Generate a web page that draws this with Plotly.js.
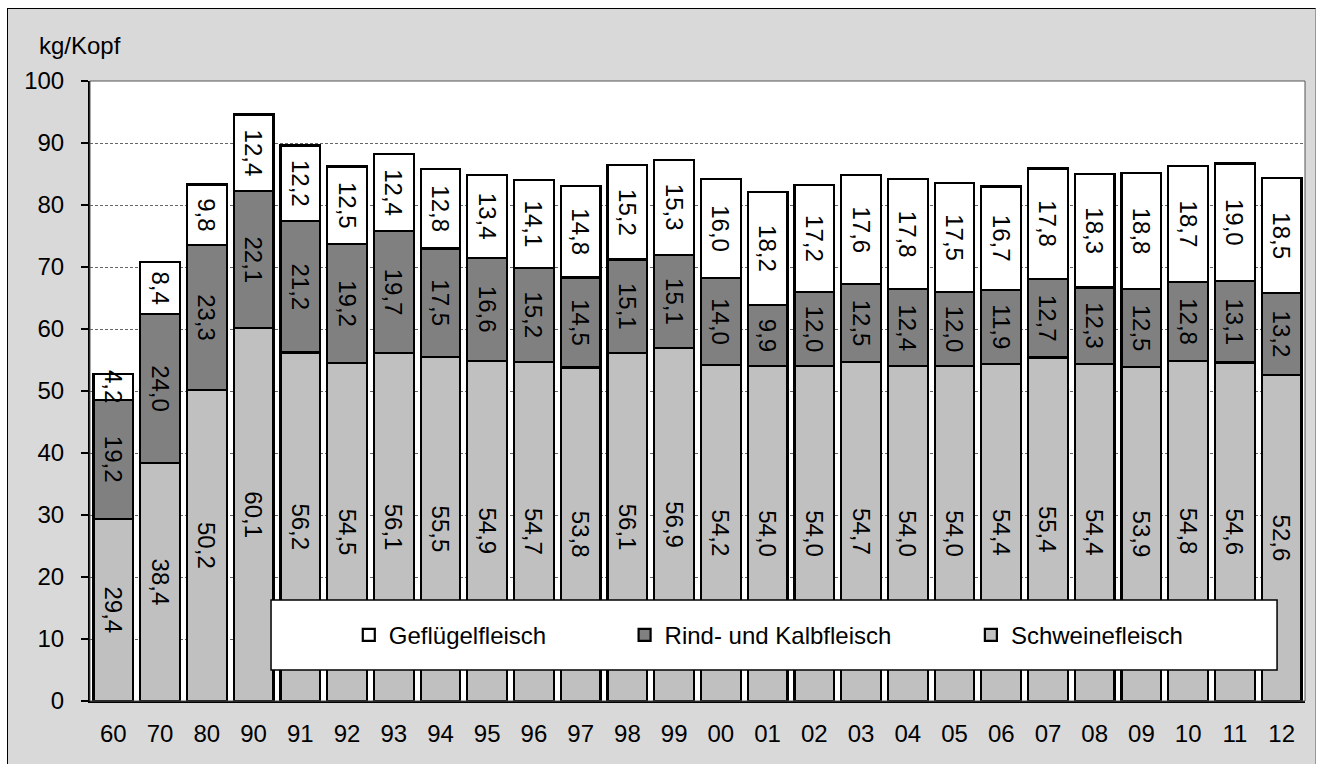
<!DOCTYPE html>
<html>
<head>
<meta charset="utf-8">
<script src="https://cdn.plot.ly/plotly-3.0.1.min.js"></script>
<style>
html,body{margin:0;padding:0;background:#ffffff;}
#wrap{position:absolute;left:7px;top:8px;width:1307px;height:760px;border-left:1px solid #000;border-top:1px solid #000;border-right:1px solid #999;background:#d9d9d9;}
#chart{width:1307px;height:756px;}
</style>
</head>
<body>
<div id="wrap"><div id="chart"></div></div>
<script>
const categories = ["60","70","80","90","91","92","93","94","95","96","97","98","99","00","01","02","03","04","05","06","07","08","09","10","11","12"];
const schwein = [29.4,38.4,50.2,60.1,56.2,54.5,56.1,55.5,54.9,54.7,53.8,56.1,56.9,54.2,54.0,54.0,54.7,54.0,54.0,54.4,55.4,54.4,53.9,54.8,54.6,52.6];
const rind = [19.2,24.0,23.3,22.1,21.2,19.2,19.7,17.5,16.6,15.2,14.5,15.1,15.1,14.0,9.9,12.0,12.5,12.4,12.0,11.9,12.7,12.3,12.5,12.8,13.1,13.2];
const gefluegel = [4.2,8.4,9.8,12.4,12.2,12.5,12.4,12.8,13.4,14.1,14.8,15.2,15.3,16.0,18.2,17.2,17.6,17.8,17.5,16.7,17.8,18.3,18.8,18.7,19.0,18.5];
const seriesNames = ["Schweinefleisch","Rind- und Kalbfleisch","Geflügelfleisch"];
const yTitle = "kg/Kopf";

const FONT = "Liberation Sans, Arial, sans-serif";
const FS = 24;
const fmt = v => v.toFixed(1).replace(".", ",");

function mk(vals, name, color, legendId) {
  return {
    type: "bar", x: categories, y: vals, name: name,
    text: vals.map(fmt), textposition: "inside", insidetextanchor: "middle",
    textangle: 90, constraintext: "none", cliponaxis: false,
    textfont: {family: FONT, size: FS, color: "#000"},
    marker: {color: color, line: {color: "#000", width: 2.2}},
    hoverinfo: "x+y", legend: legendId
  };
}

const data = [
  mk(schwein, seriesNames[0], "#c0c0c0", "legend3"),
  mk(rind, seriesNames[1], "#808080", "legend2"),
  mk(gefluegel, seriesNames[2], "#ffffff", "legend")
];

const legCommon = {orientation: "h", bgcolor: "rgba(0,0,0,0)", borderwidth: 0,
  font: {family: FONT, size: FS, color: "#000"}, yanchor: "middle", y: 0.106, xanchor: "left"};

const layout = {
  width: 1307, height: 756,
  paper_bgcolor: "#d9d9d9", plot_bgcolor: "#ffffff",
  margin: {l: 82, r: 10, t: 72, b: 64},
  barmode: "stack", bargap: 0.15,
  font: {family: FONT, size: FS, color: "#000"},
  xaxis: {type: "category", showline: true, linecolor: "#000", linewidth: 2,
    ticks: "", tickfont: {family: FONT, size: FS, color: "#000"}, ticklabelstandoff: 10,
    showgrid: false, zeroline: false, fixedrange: true},
  yaxis: {range: [0, 100], dtick: 10, showline: true, linecolor: "#000", linewidth: 2,
    ticks: "outside", ticklen: 7, tickwidth: 2, tickcolor: "#000",
    tickfont: {family: FONT, size: FS, color: "#000"}, ticklabelstandoff: 12,
    showgrid: true, gridcolor: "#666", gridwidth: 1, griddash: "3px,2px",
    zeroline: false, fixedrange: true},
  showlegend: true,
  legend: Object.assign({}, legCommon, {x: 0.213}),
  legend2: Object.assign({}, legCommon, {x: 0.440}),
  legend3: Object.assign({}, legCommon, {x: 0.725}),
  shapes: [
    {type: "rect", xref: "paper", yref: "paper", x0: 0, x1: 1, y0: 0, y1: 1,
     line: {color: "#555", width: 1}, fillcolor: "rgba(0,0,0,0)", layer: "above"},
    {type: "rect", xref: "paper", yref: "paper", x0: 0.149, x1: 0.977, y0: 0.05, y1: 0.163,
     line: {color: "#000", width: 1.5}, fillcolor: "#ffffff", layer: "above"}
  ],
  annotations: [
    {xref: "paper", yref: "paper", x: -0.0436, y: 1.058, xanchor: "left", yanchor: "middle",
     text: yTitle, showarrow: false, font: {family: FONT, size: FS, color: "#000"}}
  ]
};

Plotly.newPlot("chart", data, layout, {displayModeBar: false, staticPlot: true});
</script>
</body>
</html>
